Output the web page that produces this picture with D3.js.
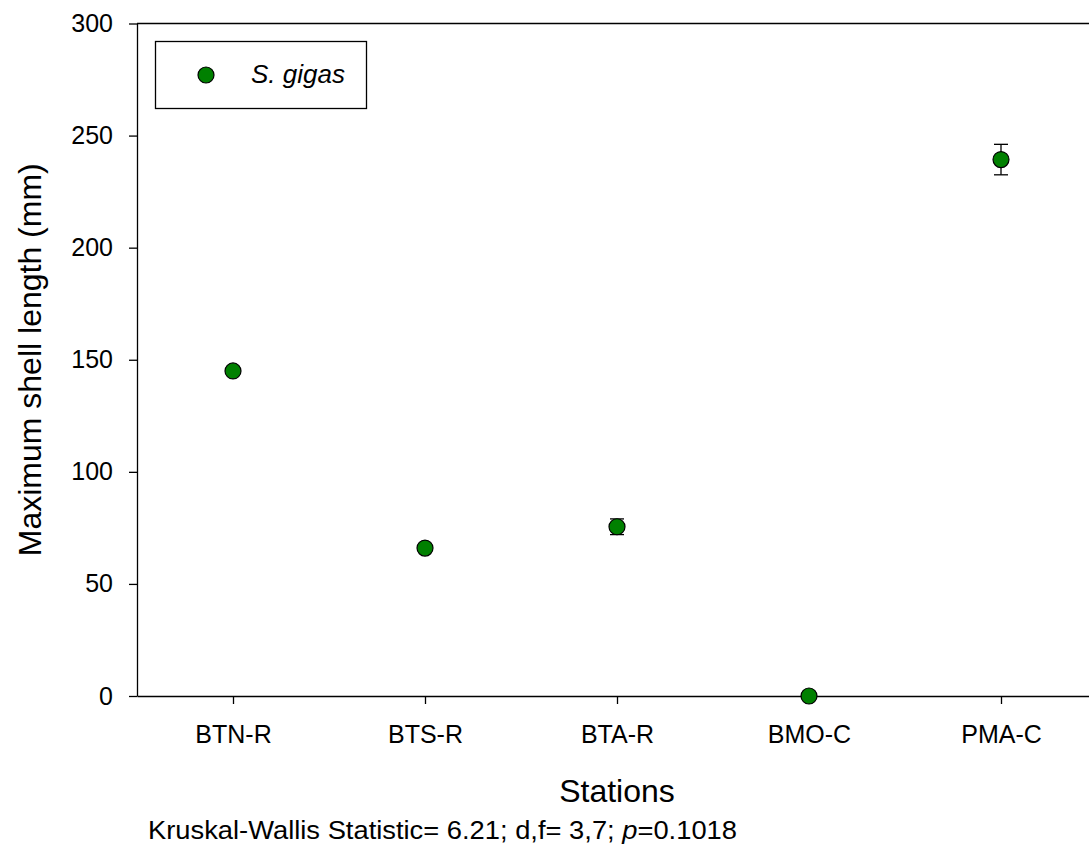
<!DOCTYPE html>
<html>
<head>
<meta charset="utf-8">
<script src="https://cdn.jsdelivr.net/npm/d3@7"></script>
<style>
  html, body { margin: 0; padding: 0; background: #fff; }
  svg { display: block; font-family: Arial, "Liberation Sans", sans-serif; }
</style>
</head>
<body>
<svg id="chart" width="1089" height="849"></svg>
<script>
// Station names along the x axis
const stations = ["BTN-R", "BTS-R", "BTA-R", "BMO-C", "PMA-C"];
// Mean maximum shell length (mm) of S. gigas per station
const meanLength = [145, 66, 75.5, 0, 239.3];
// Standard error of each mean (mm)
const stdError = [0, 0, 3.5, 0, 6.8];
// Y axis tick values
const yTicks = [0, 50, 100, 150, 200, 250, 300];

const svg = d3.select("#chart");
const plotLeft = 137, plotTop = 23.5, plotBottom = 696, plotRight = 1097;
const fontFamily = "Arial, 'Liberation Sans', sans-serif";
const markerR = 8;

const x = d3.scaleLinear().domain([0.5, stations.length + 0.5]).range([plotLeft, plotRight]);
const y = d3.scaleLinear().domain([0, 300]).range([plotBottom, plotTop]);

// Top frame line
svg.append("line")
  .attr("x1", plotLeft).attr("x2", plotRight)
  .attr("y1", y(300)).attr("y2", y(300))
  .attr("stroke", "#000").attr("stroke-width", 1.3);

// Y axis
const yAxis = svg.append("g")
  .attr("transform", `translate(${plotLeft},0)`)
  .call(d3.axisLeft(y).tickValues(yTicks).tickSize(8).tickPadding(16).tickSizeOuter(0));
yAxis.attr("font-size", 25).attr("font-family", fontFamily);
yAxis.selectAll("text").attr("fill", "#000");
yAxis.selectAll("line, path").attr("stroke", "#000").attr("stroke-width", 1.3);

// X axis
const xAxis = svg.append("g")
  .attr("transform", `translate(0,${plotBottom})`)
  .call(d3.axisBottom(x).tickValues(d3.range(1, stations.length + 1))
    .tickFormat(i => stations[i - 1]).tickSize(8).tickPadding(21).tickSizeOuter(0));
xAxis.attr("font-size", 25).attr("font-family", fontFamily);
xAxis.selectAll("text").attr("fill", "#000");
xAxis.selectAll("line, path").attr("stroke", "#000").attr("stroke-width", 1.3);

// Axis titles
svg.append("text")
  .attr("transform", `translate(41,${(plotTop + plotBottom) / 2}) rotate(-90)`)
  .attr("text-anchor", "middle")
  .attr("font-size", 32)
  .text("Maximum shell length (mm)");

svg.append("text")
  .attr("x", x(3)).attr("y", 802)
  .attr("text-anchor", "middle")
  .attr("font-size", 32)
  .text("Stations");

// Statistic note
const note = svg.append("text").attr("x", 148).attr("y", 839).attr("font-size", 25)
  .attr("textLength", 589).attr("lengthAdjust", "spacingAndGlyphs");
note.append("tspan").text("Kruskal-Wallis Statistic= 6.21; d,f= 3,7; ");
note.append("tspan").attr("font-style", "italic").text("p");
note.append("tspan").text("=0.1018");

// Error bars
const data = stations.map((s, i) => ({ i: i + 1, v: meanLength[i], e: stdError[i] }));
const eb = svg.append("g").selectAll("g").data(data.filter(d => d.e > 0)).join("g")
  .attr("stroke", "#000").attr("stroke-width", 1.3);
eb.append("line").attr("x1", d => x(d.i)).attr("x2", d => x(d.i))
  .attr("y1", d => y(d.v - d.e)).attr("y2", d => y(d.v + d.e));
eb.append("line").attr("x1", d => x(d.i) - 7).attr("x2", d => x(d.i) + 7)
  .attr("y1", d => y(d.v + d.e)).attr("y2", d => y(d.v + d.e));
eb.append("line").attr("x1", d => x(d.i) - 7).attr("x2", d => x(d.i) + 7)
  .attr("y1", d => y(d.v - d.e)).attr("y2", d => y(d.v - d.e));

// Points
svg.append("g").selectAll("circle").data(data).join("circle")
  .attr("cx", d => x(d.i)).attr("cy", d => y(d.v)).attr("r", markerR)
  .attr("fill", "#008000").attr("stroke", "#000").attr("stroke-width", 1.2);

// Legend
const lg = svg.append("g");
lg.append("rect").attr("x", 155.5).attr("y", 41.5).attr("width", 211).attr("height", 67)
  .attr("fill", "#fff").attr("stroke", "#000").attr("stroke-width", 1.3);
lg.append("circle").attr("cx", 206).attr("cy", 75).attr("r", markerR)
  .attr("fill", "#008000").attr("stroke", "#000").attr("stroke-width", 1.2);
lg.append("text").attr("x", 251).attr("y", 83).attr("font-size", 26)
  .attr("font-style", "italic").text("S. gigas");
</script>
</body>
</html>
